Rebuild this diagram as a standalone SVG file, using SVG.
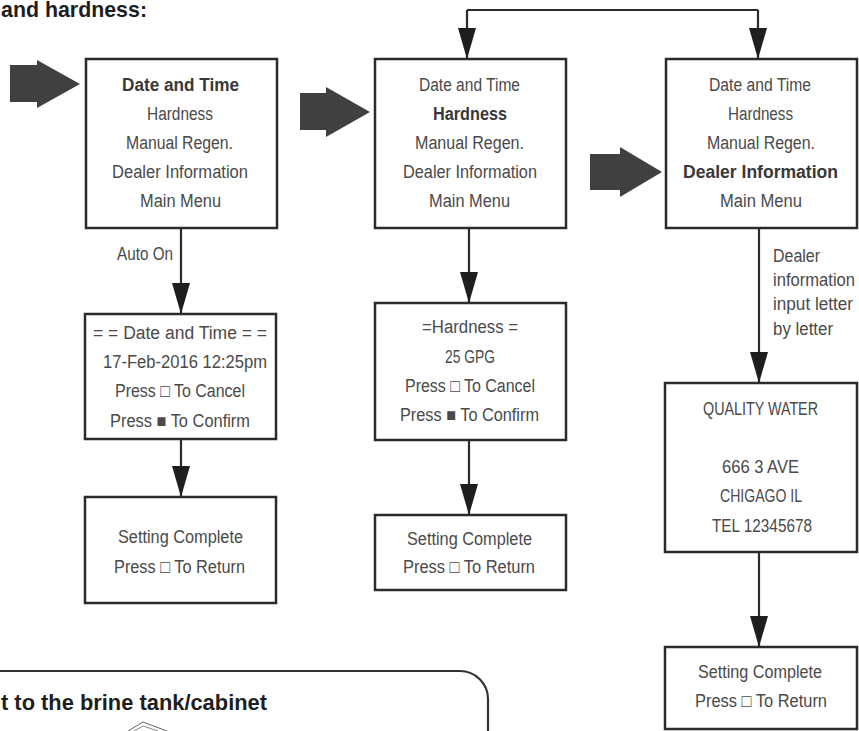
<svg xmlns="http://www.w3.org/2000/svg" width="859" height="731" viewBox="0 0 859 731">
<style>
.bx{fill:#fff;stroke:#2b2b2b;stroke-width:2.5}
.t{font-family:"Liberation Sans",Arial,sans-serif;font-size:18px;fill:#4a4a4a}
.b{font-weight:bold;fill:#383838}
.h{font-family:"Liberation Sans",Arial,sans-serif;font-weight:bold;font-size:22px;fill:#1e1e1e}
.ln{fill:none;stroke:#2b2b2b;stroke-width:2.2}
.fat{fill:#404040}
</style>
<defs>
<marker id="ah" viewBox="0 0 31 18" markerWidth="31" markerHeight="18" refX="31" refY="9" orient="auto" markerUnits="userSpaceOnUse">
<path d="M0,0 L31,9 L0,18 z" fill="#1e1e1e"/>
</marker>
</defs>
<rect width="859" height="731" fill="#fff"/>
<text class="h" x="1" y="17" font-size="21" textLength="146" lengthAdjust="spacingAndGlyphs">and hardness:</text>

<g id="fat-arrows">
<path class="fat" d="M10,65 H37 V60 L80,84 L37,108 V102 H10 z"/>
<path class="fat" d="M300,93 H326 V87 L370,112 L326,137 V130 H300 z"/>
<path class="fat" d="M590,154 H620 V147 L662,172 L620,197 V190 H590 z"/>
</g>

<g id="connectors">
<path class="ln" d="M467,10 H758"/>
<path class="ln" d="M467,10 V59" marker-end="url(#ah)"/>
<path class="ln" d="M758,10 V59" marker-end="url(#ah)"/>
<path class="ln" d="M181,228 V314" marker-end="url(#ah)"/>
<path class="ln" d="M181,439 V497" marker-end="url(#ah)"/>
<path class="ln" d="M469,228 V303" marker-end="url(#ah)"/>
<path class="ln" d="M469,440 V515" marker-end="url(#ah)"/>
<path class="ln" d="M759,228 V383" marker-end="url(#ah)"/>
<path class="ln" d="M759,552 V647" marker-end="url(#ah)"/>
<text class="t" x="117" y="260" textLength="56" lengthAdjust="spacingAndGlyphs">Auto On</text>
<text class="t" x="773" y="262" textLength="47" lengthAdjust="spacingAndGlyphs">Dealer</text>
<text class="t" x="773" y="286" font-size="17" textLength="82" lengthAdjust="spacingAndGlyphs">information</text>
<text class="t" x="773" y="310" textLength="80" lengthAdjust="spacingAndGlyphs">input letter</text>
<text class="t" x="773" y="335" textLength="60" lengthAdjust="spacingAndGlyphs">by letter</text>
</g>

<g id="menu1">
<rect class="bx" x="86" y="59" width="191" height="169"/>
<text class="t b" x="122" y="91" textLength="117" lengthAdjust="spacingAndGlyphs">Date and Time</text>
<text class="t" x="147" y="120" textLength="66" lengthAdjust="spacingAndGlyphs">Hardness</text>
<text class="t" x="126" y="149" textLength="107" lengthAdjust="spacingAndGlyphs">Manual Regen.</text>
<text class="t" x="112" y="178" textLength="136" lengthAdjust="spacingAndGlyphs">Dealer Information</text>
<text class="t" x="140" y="207" textLength="81" lengthAdjust="spacingAndGlyphs">Main Menu</text>
</g>

<g id="menu2">
<rect class="bx" x="375" y="59" width="191" height="169"/>
<text class="t" x="419" y="91" textLength="101" lengthAdjust="spacingAndGlyphs">Date and Time</text>
<text class="t b" x="433" y="120" textLength="74" lengthAdjust="spacingAndGlyphs">Hardness</text>
<text class="t" x="415" y="149" textLength="109" lengthAdjust="spacingAndGlyphs">Manual Regen.</text>
<text class="t" x="403" y="178" textLength="134" lengthAdjust="spacingAndGlyphs">Dealer Information</text>
<text class="t" x="429" y="207" textLength="81" lengthAdjust="spacingAndGlyphs">Main Menu</text>
</g>

<g id="menu3">
<rect class="bx" x="666" y="59" width="191" height="169"/>
<text class="t" x="709" y="91" textLength="102" lengthAdjust="spacingAndGlyphs">Date and Time</text>
<text class="t" x="728" y="120" textLength="65" lengthAdjust="spacingAndGlyphs">Hardness</text>
<text class="t" x="707" y="149" textLength="108" lengthAdjust="spacingAndGlyphs">Manual Regen.</text>
<text class="t b" x="683" y="178" textLength="155" lengthAdjust="spacingAndGlyphs">Dealer Information</text>
<text class="t" x="720" y="207" textLength="82" lengthAdjust="spacingAndGlyphs">Main Menu</text>
</g>

<g id="datetime">
<rect class="bx" x="85" y="314" width="191" height="125"/>
<text class="t" x="93" y="339" textLength="174" lengthAdjust="spacingAndGlyphs">= = Date and Time = =</text>
<text class="t" x="103" y="368" textLength="164" lengthAdjust="spacingAndGlyphs">17-Feb-2016  12:25pm</text>
<text class="t" x="115" y="397" textLength="130" lengthAdjust="spacingAndGlyphs">Press □ To Cancel</text>
<text class="t" x="110" y="427" textLength="140" lengthAdjust="spacingAndGlyphs">Press ■ To Confirm</text>
</g>

<g id="complete1">
<rect class="bx" x="85" y="497" width="191" height="106"/>
<text class="t" x="118" y="543" textLength="125" lengthAdjust="spacingAndGlyphs">Setting Complete</text>
<text class="t" x="114" y="573" textLength="131" lengthAdjust="spacingAndGlyphs">Press □ To Return</text>
</g>

<g id="hardness">
<rect class="bx" x="375" y="303" width="191" height="137"/>
<text class="t" x="422" y="333" textLength="96" lengthAdjust="spacingAndGlyphs">=Hardness =</text>
<text class="t" x="445" y="363" textLength="50" lengthAdjust="spacingAndGlyphs">25 GPG</text>
<text class="t" x="405" y="392" textLength="130" lengthAdjust="spacingAndGlyphs">Press □ To Cancel</text>
<text class="t" x="400" y="421" textLength="139" lengthAdjust="spacingAndGlyphs">Press ■ To Confirm</text>
</g>

<g id="complete2">
<rect class="bx" x="375" y="515" width="191" height="75"/>
<text class="t" x="407" y="545" textLength="125" lengthAdjust="spacingAndGlyphs">Setting Complete</text>
<text class="t" x="403" y="573" textLength="132" lengthAdjust="spacingAndGlyphs">Press □ To Return</text>
</g>

<g id="dealer">
<rect class="bx" x="665" y="383" width="192" height="169"/>
<text class="t" x="703" y="415" textLength="115" lengthAdjust="spacingAndGlyphs">QUALITY WATER</text>
<text class="t" x="722" y="473" textLength="77" lengthAdjust="spacingAndGlyphs">666  3 AVE</text>
<text class="t" x="720" y="502" textLength="82" lengthAdjust="spacingAndGlyphs">CHIGAGO IL</text>
<text class="t" x="712" y="532" textLength="100" lengthAdjust="spacingAndGlyphs">TEL 12345678</text>
</g>

<g id="complete3">
<rect class="bx" x="665" y="647" width="192" height="82"/>
<text class="t" x="698" y="678" textLength="124" lengthAdjust="spacingAndGlyphs">Setting Complete</text>
<text class="t" x="695" y="707" textLength="132" lengthAdjust="spacingAndGlyphs">Press □ To Return</text>
</g>

<g id="brine-panel">
<path d="M-5,671 H460 A28,28 0 0 1 488,699 V740" fill="none" stroke="#333" stroke-width="2.2"/>
<text class="h" x="1" y="710" textLength="266" lengthAdjust="spacingAndGlyphs">t to the brine tank/cabinet</text>
<polyline points="128,731 143,722 167,731" fill="none" stroke="#666" stroke-width="1"/>
<polyline points="134,731 143,726 158,731" fill="none" stroke="#888" stroke-width="1"/>
</g>
</svg>
